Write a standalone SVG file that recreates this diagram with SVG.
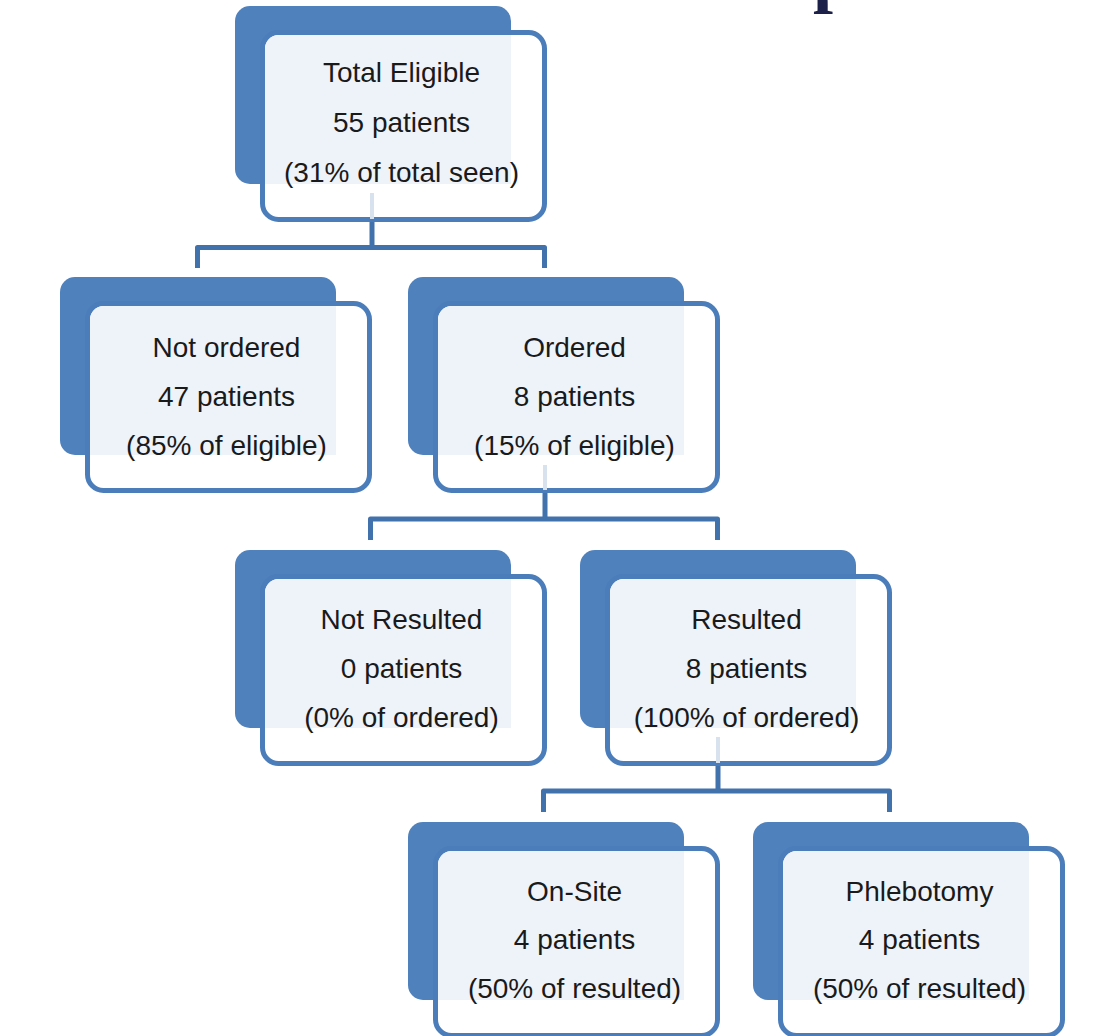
<svg xmlns="http://www.w3.org/2000/svg" xmlns:xlink="http://www.w3.org/1999/xlink" width="1118" height="1036" viewBox="0 0 1118 1036">
<style>
.back{fill:#4F81BD;}
.front{fill:#FFFFFF;stroke:#4B7DBA;stroke-width:5;}
.tint{fill:#EEF3FA;}
.t{font-family:"Liberation Sans",Arial,sans-serif;font-size:28px;fill:#1A1A1A;text-anchor:middle;}
.conn{fill:none;stroke:#4172AC;stroke-width:5;stroke-linejoin:round;}
.ghost{fill:none;stroke:#D8E2EF;stroke-width:4;}
.title{font-family:"Liberation Serif","Times New Roman",serif;font-size:72px;font-weight:bold;fill:#1B2149;}
</style>
<defs>
<g id="box">
<rect class="back" x="0" y="0" width="276" height="178" rx="15"/>
<rect class="front" x="27.5" y="26.5" width="282" height="187" rx="16"/>
<path class="tint" d="M30,43 A14,14 0 0 1 44,29 H276 V178 H30 Z"/>
</g>
</defs>
<rect width="1118" height="1036" fill="#FFFFFF"/>
<text class="title" x="813" y="-1">p</text>
<g id="n-total" transform="translate(235,6)">
<use xlink:href="#box" href="#box"/>
<text class="t" x="166.5" y="76">Total Eligible</text>
<text class="t" x="166.5" y="126">55 patients</text>
<text class="t" x="166.5" y="176">(31% of total seen)</text>
</g>
<g id="n-notordered" transform="translate(60,277)">
<use xlink:href="#box" href="#box"/>
<text class="t" x="166.5" y="80">Not ordered</text>
<text class="t" x="166.5" y="129">47 patients</text>
<text class="t" x="166.5" y="178">(85% of eligible)</text>
</g>
<g id="n-ordered" transform="translate(408,277)">
<use xlink:href="#box" href="#box"/>
<text class="t" x="166.5" y="80">Ordered</text>
<text class="t" x="166.5" y="129">8 patients</text>
<text class="t" x="166.5" y="178">(15% of eligible)</text>
</g>
<g id="n-notresulted" transform="translate(235,550)">
<use xlink:href="#box" href="#box"/>
<text class="t" x="166.5" y="79">Not Resulted</text>
<text class="t" x="166.5" y="128">0 patients</text>
<text class="t" x="166.5" y="177">(0% of ordered)</text>
</g>
<g id="n-resulted" transform="translate(580,550)">
<use xlink:href="#box" href="#box"/>
<text class="t" x="166.5" y="79">Resulted</text>
<text class="t" x="166.5" y="128">8 patients</text>
<text class="t" x="166.5" y="177">(100% of ordered)</text>
</g>
<g id="n-onsite" transform="translate(408,822)">
<use xlink:href="#box" href="#box"/>
<text class="t" x="166.5" y="79">On-Site</text>
<text class="t" x="166.5" y="127">4 patients</text>
<text class="t" x="166.5" y="176">(50% of resulted)</text>
</g>
<g id="n-phlebotomy" transform="translate(753,822)">
<use xlink:href="#box" href="#box"/>
<text class="t" x="166.5" y="79">Phlebotomy</text>
<text class="t" x="166.5" y="127">4 patients</text>
<text class="t" x="166.5" y="176">(50% of resulted)</text>
</g>
<g id="connectors">
<path class="ghost" d="M372,193 V219 M545,465 V490 M718,737 V763"/>
<path class="conn" d="M372,222 V247.5 M197.5,268 V247.5 H544.5 V268"/>
<path class="conn" d="M545,493 V519 M370.5,540 V519 H717.5 V540"/>
<path class="conn" d="M718,766 V791 M543.5,812 V791 H889.5 V812"/>
</g>
</svg>
